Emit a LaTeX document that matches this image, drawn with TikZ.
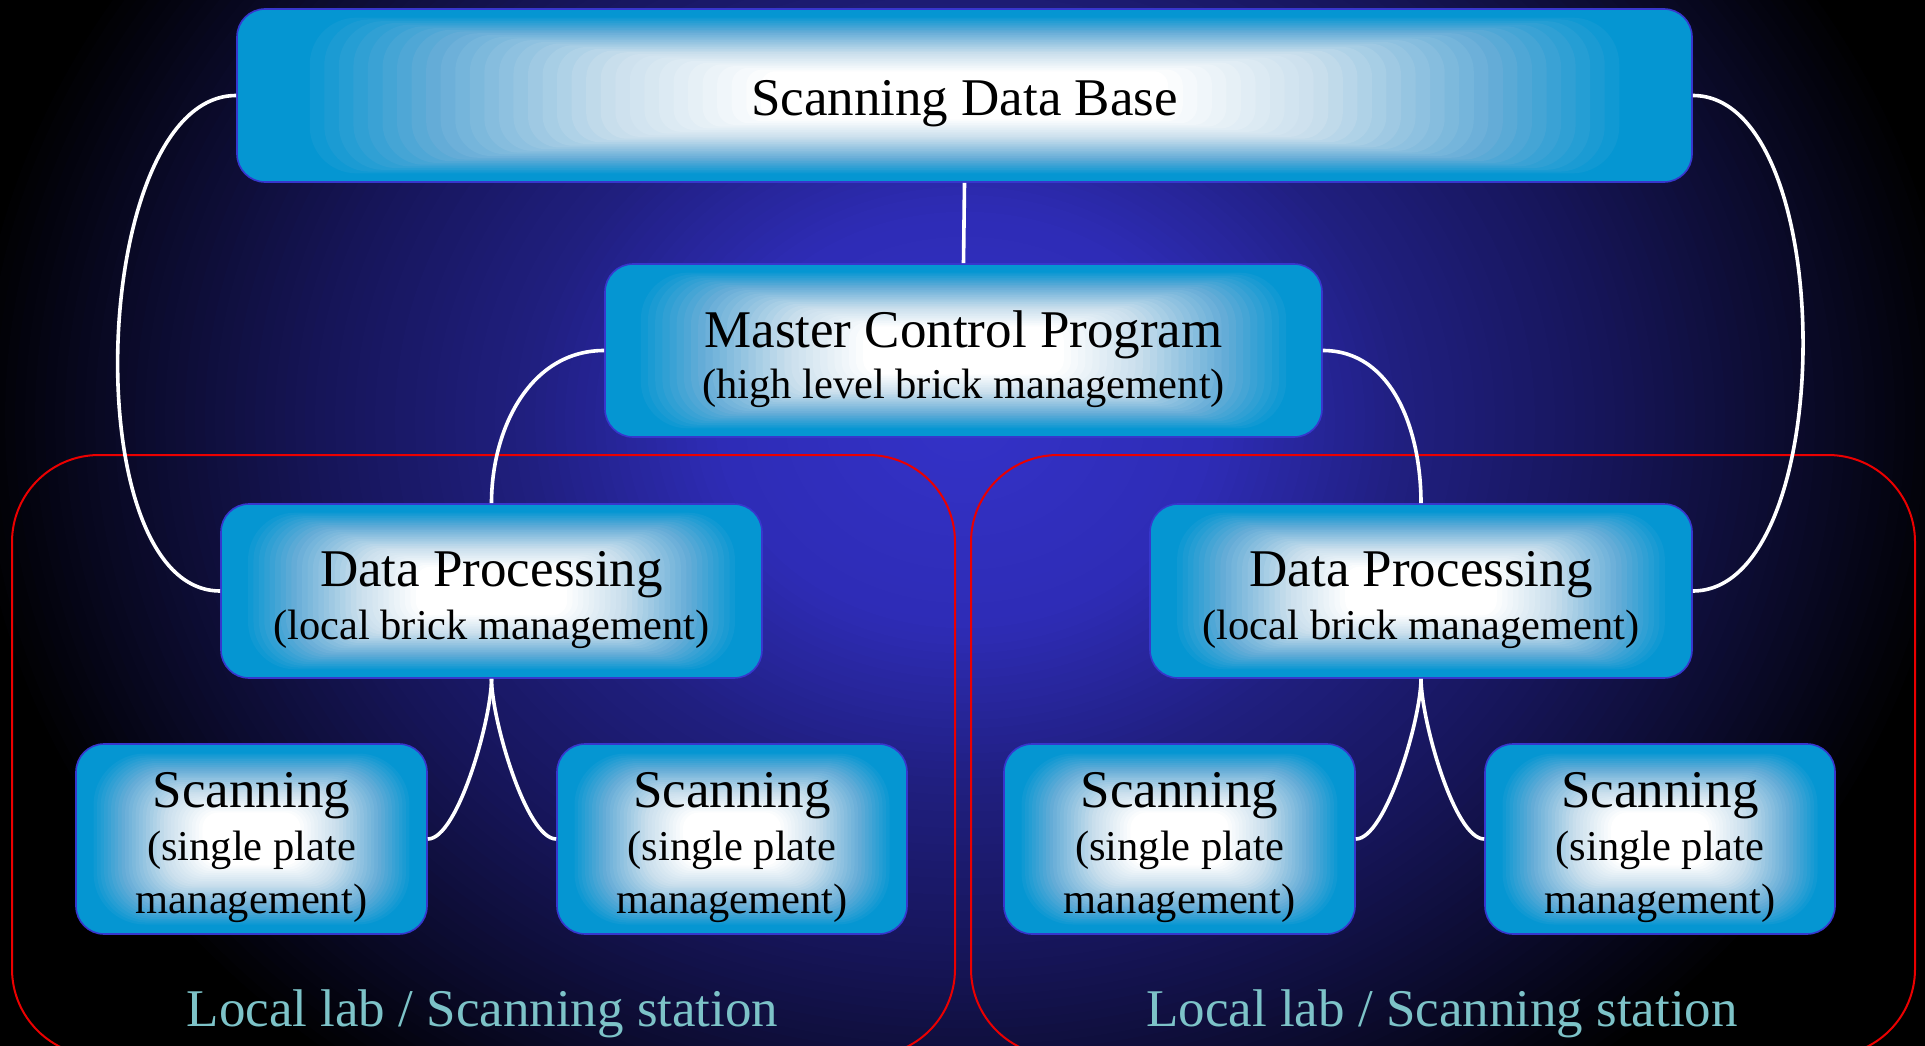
\documentclass[tikz,border=0pt]{standalone}
\usepackage{fontspec}
\setmainfont{Liberation Serif}
\definecolor{bgA}{RGB}{52,50,200}
\definecolor{bgB}{RGB}{46,44,182}
\definecolor{bgC}{RGB}{32,31,128}
\definecolor{bgD}{RGB}{22,21,88}
\definecolor{bgE}{RGB}{10,10,40}
\definecolor{bgF}{RGB}{0,0,0}
\definecolor{boxA}{RGB}{255,255,255}
\definecolor{boxB}{RGB}{200,222,236}
\definecolor{boxC}{RGB}{100,172,215}
\definecolor{boxcyan}{RGB}{5,150,210}
\definecolor{boxline}{RGB}{55,55,205}
\definecolor{framered}{RGB}{235,0,0}
\definecolor{labcol}{RGB}{125,195,200}
% colour of a box gradient at scale #1 (0..50)
\newcommand\setboxcol[1]{%
  \ifnum#1<15 \colorlet{gcol}{boxA}%
  \else\ifnum#1<26 \pgfmathtruncatemacro\pp{(#1-14)*100/11}\colorlet{gcol}{boxB!\pp!boxA}%
  \else\ifnum#1<38 \pgfmathtruncatemacro\pp{(#1-25)*100/12}\colorlet{gcol}{boxC!\pp!boxB}%
  \else\ifnum#1<47 \pgfmathtruncatemacro\pp{(#1-37)*100/9}\colorlet{gcol}{boxcyan!\pp!boxC}%
  \else \colorlet{gcol}{boxcyan}\fi\fi\fi\fi}
% colour of the background at radius #1 (0..100, 10 px per unit)
\newcommand\setbgcol[1]{%
  \ifnum#1<26 \pgfmathtruncatemacro\pp{#1*100/25}\colorlet{gcol}{bgB!\pp!bgA}%
  \else\ifnum#1<45 \pgfmathtruncatemacro\pp{(#1-25)*100/19}\colorlet{gcol}{bgC!\pp!bgB}%
  \else\ifnum#1<66 \pgfmathtruncatemacro\pp{(#1-44)*100/21}\colorlet{gcol}{bgD!\pp!bgC}%
  \else\ifnum#1<86 \pgfmathtruncatemacro\pp{(#1-65)*100/20}\colorlet{gcol}{bgE!\pp!bgD}%
  \else \pgfmathtruncatemacro\pp{(#1-85)*100/15}\colorlet{gcol}{bgF!\pp!bgE}\fi\fi\fi\fi}
% gradient of rounded-rectangle contours from the centre of a box of size #1 x #2
\newcommand\boxgrad[2]{%
  \foreach \i in {47,46,...,1}{%
    \setboxcol{\i}%
    \pgfmathsetmacro\rx{#1/100*\i}%
    \pgfmathsetmacro\ry{#2/100*\i}%
    \pgfmathsetmacro\rc{0.6*\ry}%
    \fill[gcol, rounded corners=\rc pt] (path picture bounding box.center) ++(-\rx pt,-\ry pt) rectangle ++(2*\rx pt,2*\ry pt);
  }}
\begin{document}
\begin{tikzpicture}[x=1pt,y=-1pt,
  box/.style n args={2}{minimum width=#1pt, minimum height=#2pt, draw=boxline, line width=1.6pt, rounded corners=28pt, inner sep=0pt, fill=boxcyan, path picture={\boxgrad{#1}{#2}}},
  frame/.style={draw=framered, line width=2pt, rounded corners=87pt, inner sep=0pt},
  wire/.style={draw=white, line width=3.6pt},
  ttl/.style={anchor=base, inner sep=0pt, text=black, font=\fontsize{53}{60}\selectfont},
  sub/.style={anchor=base, inner sep=0pt, text=black, font=\fontsize{42.5}{50}\selectfont},
  lab/.style={anchor=base, inner sep=0pt, text=labcol, font=\fontsize{53}{60}\selectfont}]
\useasboundingbox (0,0) rectangle (1925,1046);
\clip (0,0) rectangle (1925,1046);
% background
\fill[black] (0,0) rectangle (1925,1046);
\foreach \i in {100,99,...,1}{%
  \setbgcol{\i}%
  \pgfmathsetmacro\ryy{\i*10/1.2}%
  \fill[gcol] (965,420) ellipse[x radius=\i*10 pt, y radius=\ryy pt];
}
% group frames
\node[frame, minimum width=943pt, minimum height=601pt] (fl) at (483.5,755.5) {};
\node[frame, minimum width=944pt, minimum height=601pt] (fr) at (1443,755.5) {};
% boxes
\node[box={1455}{173}] (top) at (964.5,95.5) {};
\node[box={717}{173}] (mcp) at (963.5,350.5) {};
\node[box={541}{174}] (dpl) at (491.5,591) {};
\node[box={542}{174}] (dpr) at (1421,591) {};
\node[box={351}{190}] (s1) at (251.5,839) {};
\node[box={350}{190}] (s2) at (732,839) {};
\node[box={351}{190}] (s3) at (1179.5,839) {};
\node[box={350}{190}] (s4) at (1660,839) {};
% texts
\node[ttl] (topT) at (964.5,116) {Scanning Data Base};
\node[ttl] (mcpT) at (963.5,347) {Master Control Program};
\node[sub] (mcpS) at (963.5,398) {(high level brick management)};
\node[ttl] (dplT) at (491.5,586) {Data Processing};
\node[sub] (dplS) at (491.5,639) {(local brick management)};
\node[ttl] (dprT) at (1421,586) {Data Processing};
\node[sub] (dprS) at (1421,639) {(local brick management)};
\foreach \n/\x in {s1/251.5, s2/732, s3/1179.5, s4/1660}{
  \node[ttl] (\n T) at (\x,807) {Scanning};
  \node[sub] (\n S) at (\x,860) {(single plate};
  \node[sub] (\n M) at (\x,913) {management)};
}
\node[lab] (labL) at (482.5,1026) {Local lab / Scanning station};
\node[lab] (labR) at (1442,1026) {Local lab / Scanning station};
% connectors
\draw[wire] (top.south) -- (mcp.north);
\draw[wire] (top.west) .. controls +(-147,0) and +(-147,0) .. (dpl.west);
\draw[wire] (top.east) .. controls +(147,0) and +(147,0) .. (dpr.east);
\draw[wire] (mcp.west) to[out=180,in=90] (dpl.north);
\draw[wire] (mcp.east) to[out=0,in=90] (dpr.north);
\draw[wire] (dpl.south) .. controls +(0,40) and +(30,0) .. (s1.east);
\draw[wire] (dpl.south) .. controls +(0,40) and +(-30,0) .. (s2.west);
\draw[wire] (dpr.south) .. controls +(0,40) and +(30,0) .. (s3.east);
\draw[wire] (dpr.south) .. controls +(0,40) and +(-30,0) .. (s4.west);
\end{tikzpicture}
\end{document}
